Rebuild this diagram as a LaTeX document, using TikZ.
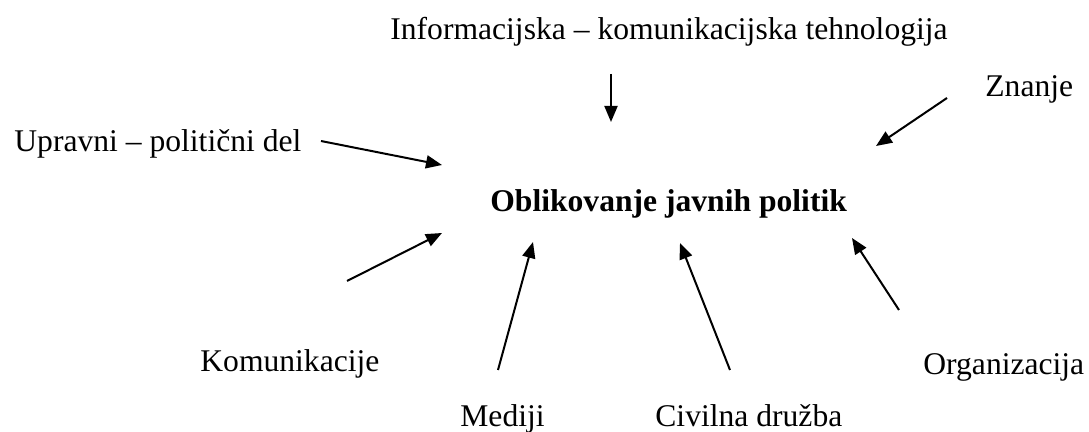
\documentclass[tikz,border=0pt]{standalone}
\usepackage{fontspec}
\setmainfont{Liberation Serif}
\usepackage{tikz}
\usetikzlibrary{arrows.meta}
\tikzset{
  arr/.style={-{Triangle[length=8pt,width=6.5pt]}, line width=1pt, draw=black},
  lbl/.style={anchor=base west, inner sep=0pt, font=\fontsize{15.8}{19}\selectfont},
  hub/.style={anchor=base west, inner sep=0pt, font=\fontsize{15.8}{19}\selectfont\bfseries}
}

\begin{document}
\begin{tikzpicture}[x=0.5pt,y=-0.5pt]
  \useasboundingbox (0,0) rectangle (1089,432);
  % centre and the influences round it
  \node[hub] (hub) at (490,212) {Oblikovanje javnih politik};
  \node[lbl] (ikt) at (390,40) {Informacijska – komunikacijska tehnologija};
  \node[lbl] (zna) at (985,97) {Znanje};
  \node[lbl] (upr) at (14,152) {Upravni – politični del};
  \node[lbl] (kom) at (200,372) {Komunikacije};
  \node[lbl] (org) at (923,375) {Organizacija};
  \node[lbl] (med) at (460,427) {Mediji};
  \node[lbl] (civ) at (655,427) {Civilna družba};
  % arrow tails (-t) and heads (-h)
  \coordinate (ikt-t) at (611,74);  \coordinate (ikt-h) at (611,122);
  \coordinate (zna-t) at (947,98);  \coordinate (zna-h) at (876,146);
  \coordinate (upr-t) at (321,141); \coordinate (upr-h) at (442,165);
  \coordinate (kom-t) at (347,281); \coordinate (kom-h) at (442,233);
  \coordinate (med-t) at (498,370); \coordinate (med-h) at (533,242);
  \coordinate (civ-t) at (730,370); \coordinate (civ-h) at (680,243);
  \coordinate (org-t) at (899,310); \coordinate (org-h) at (852,238);
  \foreach \s in {ikt,zna,upr,kom,med,civ,org}{
    \draw[arr] (\s-t) -- (\s-h);
  }
\end{tikzpicture}
\end{document}
